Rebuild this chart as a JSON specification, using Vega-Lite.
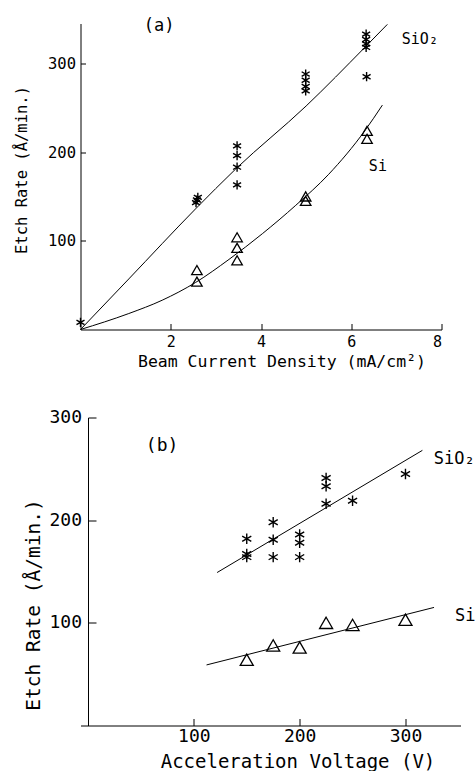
{
  "$schema": "https://vega.github.io/schema/vega-lite/v6.json",
  "background": "white",
  "padding": {"left": 14.5, "top": 16.5, "right": 0, "bottom": 0},
  "spacing": 39,
  "config": {
    "view": {"stroke": null},
    "font": "DejaVu Sans Mono",
    "axis": {
      "grid": false,
      "domainColor": "black",
      "tickColor": "black",
      "labelColor": "black",
      "titleColor": "black",
      "titleFontWeight": "normal",
      "labelFont": "DejaVu Sans Mono",
      "titleFont": "DejaVu Sans Mono",
      "domainWidth": 1,
      "tickWidth": 1
    }
  },
  "datasets": {
    "a_pts": [
      {"s": "SiO2", "x": 0, "y": 8},
      {"s": "SiO2", "x": 2.56, "y": 143},
      {"s": "SiO2", "x": 2.58, "y": 146},
      {"s": "SiO2", "x": 2.6, "y": 149},
      {"s": "SiO2", "x": 3.47, "y": 207},
      {"s": "SiO2", "x": 3.47, "y": 196},
      {"s": "SiO2", "x": 3.47, "y": 183},
      {"s": "SiO2", "x": 3.47, "y": 163},
      {"s": "SiO2", "x": 4.99, "y": 288},
      {"s": "SiO2", "x": 4.99, "y": 281},
      {"s": "SiO2", "x": 4.99, "y": 274},
      {"s": "SiO2", "x": 4.99, "y": 269},
      {"s": "SiO2", "x": 6.33, "y": 333},
      {"s": "SiO2", "x": 6.33, "y": 327},
      {"s": "SiO2", "x": 6.33, "y": 322},
      {"s": "SiO2", "x": 6.33, "y": 318},
      {"s": "SiO2", "x": 6.34, "y": 285},
      {"s": "Si", "x": 2.58, "y": 67},
      {"s": "Si", "x": 2.58, "y": 54},
      {"s": "Si", "x": 3.47, "y": 104},
      {"s": "Si", "x": 3.47, "y": 92},
      {"s": "Si", "x": 3.47, "y": 78},
      {"s": "Si", "x": 4.99, "y": 150},
      {"s": "Si", "x": 4.99, "y": 145},
      {"s": "Si", "x": 6.35, "y": 224},
      {"s": "Si", "x": 6.35, "y": 215}
    ],
    "a_lines": [
      {"s": "SiO2", "x": 0, "y": 0},
      {"s": "SiO2", "x": 1.07, "y": 57},
      {"s": "SiO2", "x": 2.55, "y": 136},
      {"s": "SiO2", "x": 3.44, "y": 181},
      {"s": "SiO2", "x": 5, "y": 252},
      {"s": "SiO2", "x": 6.3, "y": 318},
      {"s": "SiO2", "x": 6.8, "y": 344},
      {"s": "Si", "x": 0, "y": 0},
      {"s": "Si", "x": 1.07, "y": 18},
      {"s": "Si", "x": 1.81, "y": 33},
      {"s": "Si", "x": 2.55, "y": 53},
      {"s": "Si", "x": 3.29, "y": 79},
      {"s": "Si", "x": 4.03, "y": 108},
      {"s": "Si", "x": 4.77, "y": 140},
      {"s": "Si", "x": 5.5, "y": 175},
      {"s": "Si", "x": 6.3, "y": 224},
      {"s": "Si", "x": 6.69, "y": 253}
    ],
    "a_big": [{"t": "(a)", "x": 1.4, "y": 342}],
    "a_lab": [
      {"t": "SiO₂", "x": 7.12, "y": 327},
      {"t": "Si", "x": 6.39, "y": 184}
    ],
    "b_pts": [
      {"s": "SiO2", "x": 150, "y": 182},
      {"s": "SiO2", "x": 150, "y": 167},
      {"s": "SiO2", "x": 150, "y": 164},
      {"s": "SiO2", "x": 175, "y": 198},
      {"s": "SiO2", "x": 175, "y": 181},
      {"s": "SiO2", "x": 175, "y": 164},
      {"s": "SiO2", "x": 200, "y": 186},
      {"s": "SiO2", "x": 200, "y": 178},
      {"s": "SiO2", "x": 200, "y": 164},
      {"s": "SiO2", "x": 225, "y": 241},
      {"s": "SiO2", "x": 225, "y": 233},
      {"s": "SiO2", "x": 225, "y": 216},
      {"s": "SiO2", "x": 250, "y": 219},
      {"s": "SiO2", "x": 300, "y": 245},
      {"s": "Si", "x": 150, "y": 64},
      {"s": "Si", "x": 175, "y": 78},
      {"s": "Si", "x": 200, "y": 76},
      {"s": "Si", "x": 225, "y": 100},
      {"s": "Si", "x": 250, "y": 98},
      {"s": "Si", "x": 300, "y": 103}
    ],
    "b_lines": [
      {"s": "SiO2", "x": 122, "y": 149},
      {"s": "SiO2", "x": 316, "y": 268},
      {"s": "Si", "x": 112, "y": 59},
      {"s": "Si", "x": 327, "y": 115}
    ],
    "b_big": [{"t": "(b)", "x": 54.6, "y": 272}],
    "b_lab": [
      {"t": "SiO₂", "x": 326.8, "y": 260},
      {"t": "Si", "x": 346.7, "y": 107}
    ]
  },
  "vconcat": [
    {
      "width": 361,
      "height": 306,
      "encoding": {
        "x": {
          "field": "x", "type": "quantitative",
          "scale": {"domain": [0, 8], "nice": false, "zero": false},
          "axis": {
            "values": [2, 4, 6, 8],
            "title": "Beam Current Density (mA/cm²)",
            "tickSize": -6,
            "labelPadding": 11,
            "labelFontSize": 15,
            "titleFontSize": 16.5,
            "titleX": 201,
            "titleY": 31.5,
            "titleBaseline": "middle",
            "titleAlign": "center"
          }
        },
        "y": {
          "field": "y", "type": "quantitative",
          "scale": {"domain": [0, 345], "nice": false},
          "axis": {
            "values": [100, 200, 300],
            "title": "Etch Rate (Å/min.)",
            "tickSize": -5,
            "labelPadding": 10,
            "labelFontSize": 15.5,
            "titleFontSize": 15.5,
            "titleX": -59,
            "titleY": 146,
            "titleBaseline": "middle",
            "titleAlign": "center"
          }
        }
      },
      "layer": [
        {
          "data": {"name": "a_lines"},
          "mark": {"type": "line", "color": "black", "strokeWidth": 1, "interpolate": "monotone"},
          "encoding": {"detail": {"field": "s"}}
        },
        {
          "data": {"name": "a_pts"},
          "transform": [{"filter": "datum.s === 'SiO2'"}],
          "mark": {"type": "point", "shape": "M0,-1L0,1M-0.87,-0.5L0.87,0.5M-0.87,0.5L0.87,-0.5", "filled": false, "stroke": "black", "strokeWidth": 1.4, "size": 85, "opacity": 1}
        },
        {
          "data": {"name": "a_pts"},
          "transform": [{"filter": "datum.s === 'Si'"}],
          "mark": {"type": "point", "shape": "triangle-up", "filled": false, "stroke": "black", "strokeWidth": 1.3, "size": 110, "opacity": 1}
        },
        {
          "data": {"name": "a_big"},
          "mark": {"type": "text", "align": "left", "baseline": "middle", "fontSize": 17, "color": "black"},
          "encoding": {"text": {"field": "t"}}
        },
        {
          "data": {"name": "a_lab"},
          "mark": {"type": "text", "align": "left", "baseline": "middle", "fontSize": 15, "color": "black"},
          "encoding": {"text": {"field": "t"}}
        }
      ]
    },
    {
      "width": 380,
      "height": 308,
      "encoding": {
        "x": {
          "field": "x", "type": "quantitative",
          "scale": {"domain": [-7.1, 352], "nice": false, "zero": false},
          "axis": {
            "values": [100, 200, 300],
            "title": "Acceleration Voltage (V)",
            "tickSize": -7,
            "labelPadding": 9,
            "labelFontSize": 18,
            "titleFontSize": 19,
            "titleX": 217,
            "titleY": 35.5,
            "titleBaseline": "middle",
            "titleAlign": "center"
          }
        },
        "y": {
          "field": "y", "type": "quantitative",
          "scale": {"domain": [0, 300], "nice": false},
          "axis": {
            "values": [100, 200, 300],
            "offset": -7.5,
            "title": "Etch Rate (Å/min.)",
            "tickSize": -8,
            "labelPadding": 14.5,
            "labelFontSize": 18,
            "titleFontSize": 19.5,
            "titleX": -55,
            "titleY": 187,
            "titleBaseline": "middle",
            "titleAlign": "center"
          }
        }
      },
      "layer": [
        {
          "data": {"name": "b_lines"},
          "mark": {"type": "line", "color": "black", "strokeWidth": 1},
          "encoding": {"detail": {"field": "s"}}
        },
        {
          "data": {"name": "b_pts"},
          "transform": [{"filter": "datum.s === 'SiO2'"}],
          "mark": {"type": "point", "shape": "M0,-1L0,1M-0.87,-0.5L0.87,0.5M-0.87,0.5L0.87,-0.5", "filled": false, "stroke": "black", "strokeWidth": 1.4, "size": 110, "opacity": 1}
        },
        {
          "data": {"name": "b_pts"},
          "transform": [{"filter": "datum.s === 'Si'"}],
          "mark": {"type": "point", "shape": "triangle-up", "filled": false, "stroke": "black", "strokeWidth": 1.3, "size": 170, "opacity": 1}
        },
        {
          "data": {"name": "b_big"},
          "mark": {"type": "text", "align": "left", "baseline": "middle", "fontSize": 18, "color": "black"},
          "encoding": {"text": {"field": "t"}}
        },
        {
          "data": {"name": "b_lab"},
          "mark": {"type": "text", "align": "left", "baseline": "middle", "fontSize": 17, "color": "black"},
          "encoding": {"text": {"field": "t"}}
        }
      ]
    }
  ]
}
